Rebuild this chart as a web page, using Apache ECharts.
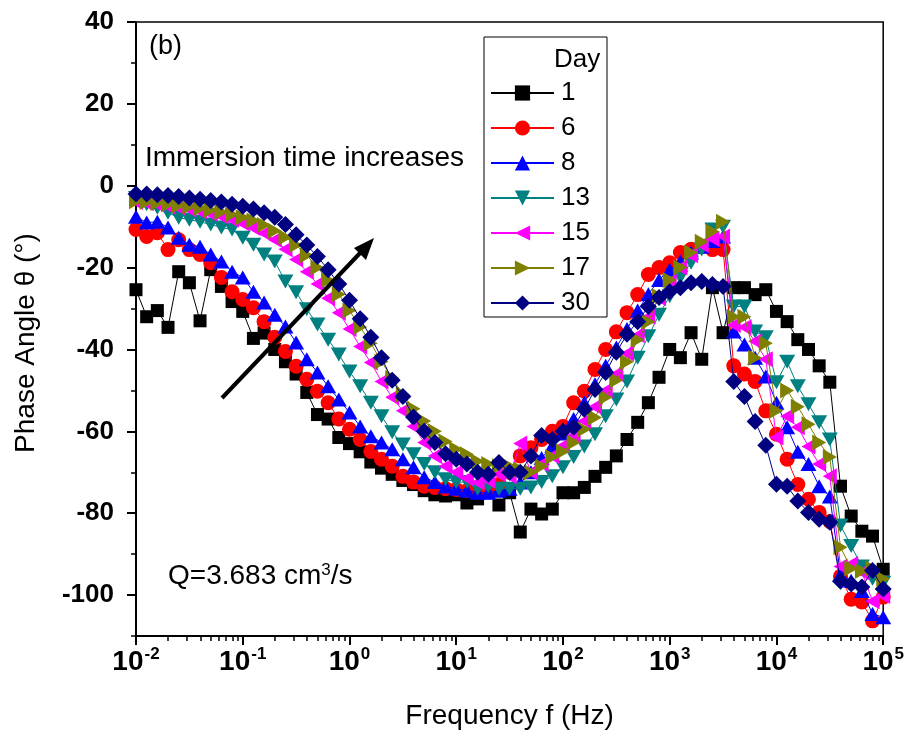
<!DOCTYPE html>
<html>
<head>
<meta charset="utf-8">
<script src="https://cdn.jsdelivr.net/npm/echarts@6/dist/echarts.min.js"></script>
<style>
  html, body { margin: 0; padding: 0; background: #ffffff; }
  #chart { width: 907px; height: 749px; }
</style>
</head>
<body>
<div id="chart"></div>
<script>
// Measurement frequencies (Hz), 10 points per decade from 10 mHz to 100 kHz
const frequency = [
  0.01, 0.01259, 0.01585, 0.01995, 0.02512, 0.03162, 0.03981, 0.05012, 0.0631, 0.07943,
  0.1, 0.1259, 0.1585, 0.1995, 0.2512, 0.3162, 0.3981, 0.5012, 0.631, 0.7943,
  1, 1.259, 1.585, 1.995, 2.512, 3.162, 3.981, 5.012, 6.31, 7.943,
  10, 12.59, 15.85, 19.95, 25.12, 31.62, 39.81, 50.12, 63.1, 79.43,
  100, 125.9, 158.5, 199.5, 251.2, 316.2, 398.1, 501.2, 631, 794.3,
  1000, 1259, 1585, 1995, 2512, 3162, 3981, 5012, 6310, 7943,
  10000, 12590, 15850, 19950, 25120, 31620, 39810, 50120, 63100, 79430,
  100000
];

// Phase angle (degrees) for each immersion day, same order as frequency
const day1 = [
  -25.4, -32, -30.5, -34.6, -21, -23.7, -33, -20.5, -24.6, -28.3,
  -30.7, -37.3, -36, -40, -43, -46, -50.5, -55.9, -57, -61.5,
  -63, -65, -67.5, -69, -70.5, -72, -73, -74.5, -75.5, -75.8,
  -75.5, -77.5, -76.5, -75, -78, -75, -84.6, -79, -80.2, -79,
  -75, -75, -73.7, -71, -68.8, -66, -62, -57.8, -53, -46.8,
  -40, -42, -35.9, -42.4, -24.9, -35.9, -24.9, -24.9, -26.6, -25.4,
  -30.7, -33.2, -37.6, -40, -44, -48, -73.4, -80.7, -84.4, -85.6,
  -93.7
];
const day6 = [
  -10.7, -12.4, -11.5, -15.6, -13.2, -15.6, -16.8, -18.8, -22.4, -25.9,
  -27.8, -29.8, -33.2, -37, -40.5, -44.1, -47.3, -50.2, -53, -57,
  -59.5, -62, -64.9, -66.8, -68.5, -71, -72.4, -73.4, -73.7, -74,
  -74.2, -74.5, -74.5, -74, -73, -70, -66, -64, -62, -60,
  -58.8, -53, -50.2, -44.9, -40, -35.7, -31, -26.6, -21.7, -20,
  -18.8, -16.3, -15.5, -14.9, -15.6, -15.6, -44, -46, -47.8, -55,
  -60.7, -66.8, -73, -76.6, -79.8, -82, -95.4, -101, -101.7, -106.3,
  -100.5
];
const day8 = [
  -7.6, -9, -8.8, -10.2, -12.7, -14.4, -14.9, -16.8, -18.5, -21,
  -22.4, -25.9, -28.5, -31.5, -34.4, -38.3, -42.4, -45.6, -49, -52.2,
  -55.4, -58.8, -61.2, -62.7, -64.4, -66.8, -68.8, -71.2, -72.4, -73.5,
  -74, -74.5, -75, -75, -74.5, -74, -72.5, -70, -66.5, -63.5,
  -60.5, -57, -53, -48.5, -44, -39.5, -35, -30.5, -26.5, -23,
  -20.5, -18.5, -16.3, -14.9, -13.5, -12.4, -35.6, -38.8, -42, -46.6,
  -53, -59, -65, -68, -73.4, -75.9, -95, -96.5, -99, -104.6,
  -105.4
];
const day13 = [
  -3, -4.5, -5.4, -6.6, -7.8, -8.3, -8.8, -9.5, -10.2, -10.7,
  -12.7, -14.4, -16.8, -18.5, -23.4, -26, -30.2, -33.9, -37.6, -41.2,
  -45.4, -49, -53, -56.3, -60.2, -63.2, -65.6, -68, -70, -71.7,
  -72.4, -72.4, -74, -73.4, -74, -74, -74, -73.7, -72.4, -71,
  -68.8, -66.3, -63.7, -60.7, -56.3, -52.2, -47.8, -42, -36.8, -31.5,
  -27, -22.4, -18.8, -15.6, -10.7, -10, -29.5, -29.5, -35.6, -37,
  -48, -43, -49, -53.4, -57.8, -62, -83, -88, -93, -96,
  -97
];
const day15 = [
  -4, -4.3, -4.6, -5, -5.4, -5.8, -6.3, -6.9, -7.5, -8.3,
  -9.2, -10.3, -11.6, -13.2, -15.5, -18, -21, -24, -27.5, -31,
  -35, -39.3, -43.2, -47.8, -51.7, -55, -58.8, -62.7, -66, -68.5,
  -70, -71.5, -72.5, -72, -70.5, -71, -63, -70, -68, -66,
  -63.5, -61, -57.5, -54, -50, -46, -41, -36.5, -32, -27.5,
  -23.5, -20, -17, -14.5, -13, -12.4, -34, -34.6, -38, -42.4,
  -61.5, -56.3, -59, -63.7, -68, -71, -93, -92.4, -94.4, -101.5,
  -100.2
];
const day17 = [
  -3.8, -4, -4.2, -4.5, -4.8, -5.1, -5.5, -5.9, -6.4, -7,
  -7.7, -8.5, -9.6, -11, -12.6, -14.5, -17, -20, -23, -26.5,
  -30.5, -34.5, -38.5, -43, -47, -51, -54.5, -57.5, -60, -62.5,
  -64.4, -65.6, -67.3, -68, -68.5, -68.5, -69.3, -70, -68.5, -66.3,
  -64.9, -62.7, -59.5, -56.6, -51.7, -47.5, -43, -37.6, -33.2, -27,
  -23, -20, -16.3, -13.7, -11.2, -8.8, -32, -32, -42, -38.5,
  -55, -50, -54, -58.3, -62.7, -66.3, -88.3, -93.5, -94.1, -93.5,
  -96
];
const day30 = [
  -2, -2, -2.2, -2.4, -2.6, -3, -3.3, -3.6, -4, -4.5,
  -5, -5.7, -6.6, -7.7, -9.5, -12, -14.5, -17.3, -20.5, -24,
  -28, -32.5, -37, -42, -47.5, -51.5, -56.5, -60, -62.7, -65.5,
  -66.8, -68, -70, -70.5, -67.6, -70, -70, -66, -61, -62,
  -60, -59, -54.6, -49.8, -45.6, -40.7, -36.3, -33.2, -29.5, -27.3,
  -25.9, -24.9, -23.7, -23.4, -24.1, -24.6, -47.8, -51.5, -57.6, -63.4,
  -72.9, -73.4, -77, -79.8, -81.5, -82.2, -96.6, -97.3, -98, -94,
  -98.5
];

const dayLabels = ['1', '6', '8', '13', '15', '17', '30'];
const yTickValues = [-100, -80, -60, -40, -20, 0, 20, 40];
const xDecades = [0.01, 0.1, 1, 10, 100, 1000, 10000, 100000];

// Minor tick positions 2..9 inside each decade
const xMinorTicks = [];
for (let d = 0; d < xDecades.length - 1; d++) {
  for (let m = 2; m <= 9; m++) xMinorTicks.push(+(xDecades[d] * m).toPrecision(3));
}

const FONT = '"Liberation Sans", Arial, sans-serif';

const styles = [
  { data: day1,  color: '#000000', symbol: 'rect',     size: 13,       rotate: 0 },
  { data: day6,  color: '#ff0000', symbol: 'circle',   size: 15,       rotate: 0 },
  { data: day8,  color: '#0000ff', symbol: 'triangle', size: [16, 14], rotate: 0 },
  { data: day13, color: '#008080', symbol: 'triangle', size: [16, 14], rotate: 180 },
  { data: day15, color: '#ff00ff', symbol: 'triangle', size: [16, 14], rotate: 90 },
  { data: day17, color: '#808000', symbol: 'triangle', size: [16, 14], rotate: -90 },
  { data: day30, color: '#000080', symbol: 'diamond',  size: [17, 17], rotate: 0 }
];

const series = styles.map((s, i) => ({
  name: dayLabels[i],
  type: 'line',
  data: frequency.map((f, j) => [f, s.data[j]]),
  symbol: s.symbol,
  symbolSize: s.size,
  symbolRotate: s.rotate,
  showAllSymbol: true,
  color: s.color,
  lineStyle: { width: 1, color: s.color },
  itemStyle: { color: s.color },
  z: 2 + i,
  animation: false
}));

const chart = echarts.init(document.getElementById('chart'), null, { renderer: 'canvas' });

const axisLineStyle = { color: '#000', width: 2 };

chart.setOption({
  animation: false,
  backgroundColor: '#ffffff',
  grid: {
    left: 136, right: 23, top: 22, bottom: 113,
    show: true, borderColor: '#000', borderWidth: 1.5, backgroundColor: 'transparent'
  },
  xAxis: [
    {
      type: 'log', logBase: 10, min: 0.01, max: 100000,
      name: 'Frequency f (Hz)', nameLocation: 'middle', nameGap: 66,
      nameTextStyle: { fontFamily: FONT, fontSize: 28, color: '#000' },
      axisLine: { onZero: false, lineStyle: axisLineStyle },
      axisTick: { inside: false, length: 9, lineStyle: { color: '#000', width: 2 }, customValues: xDecades },
      splitLine: { show: false },
      axisLabel: {
        customValues: xDecades,
        margin: 10,
        formatter: v => '{b|10}{s|' + Math.round(Math.log10(v)) + '}',
        rich: {
          b: { fontFamily: FONT, fontSize: 28, fontWeight: 'bold', color: '#000', lineHeight: 32 },
          s: { fontFamily: FONT, fontSize: 17, fontWeight: 'bold', color: '#000', verticalAlign: 'top', lineHeight: 32, padding: [0, 0, 0, 1] }
        }
      }
    },
    {
      type: 'log', logBase: 10, min: 0.01, max: 100000, position: 'bottom',
      axisLine: { show: false, onZero: false },
      axisTick: { inside: false, length: 5, lineStyle: { color: '#000', width: 1.5 }, customValues: xMinorTicks },
      axisLabel: { show: false },
      splitLine: { show: false }
    }
  ],
  yAxis: [
    {
      type: 'value', min: -110, max: 40, interval: 10,
      axisLine: { onZero: false, lineStyle: axisLineStyle },
      axisTick: { inside: false, length: 9, lineStyle: { color: '#000', width: 2 }, customValues: yTickValues },
      splitLine: { show: false },
      axisLabel: {
        customValues: yTickValues,
        margin: 22,
        fontFamily: FONT, fontSize: 26, fontWeight: 'bold', color: '#000'
      }
    },
    {
      type: 'value', min: -110, max: 40, interval: 10, position: 'left',
      axisLine: { show: false, onZero: false },
      axisTick: { inside: false, length: 5, lineStyle: { color: '#000', width: 1.5 } },
      axisLabel: { show: false },
      splitLine: { show: false }
    }
  ],
  legend: {
    data: dayLabels,
    orient: 'vertical',
    left: 490, top: 80,
    itemWidth: 63, itemHeight: 19, itemGap: 9,
    padding: 0,
    textStyle: { fontFamily: FONT, fontSize: 26, color: '#000', padding: [0, 0, 0, 2] },
    selectedMode: false
  },
  graphic: [
    { type: 'rect', shape: { x: 484, y: 37, width: 123, height: 280 },
      style: { fill: '#fff', stroke: '#000', lineWidth: 1 }, z: 0 },
    { type: 'text', x: 554, y: 47, style: { text: 'Day', fontFamily: FONT, fontSize: 26, fill: '#000' }, z: 10 },
    { type: 'text', x: 26, y: 343, rotation: Math.PI / 2,
      style: { text: 'Phase Angle \u03b8 (\u00b0)', fontFamily: FONT, fontSize: 28, fill: '#000',
               align: 'center', verticalAlign: 'middle' }, z: 10 },
    { type: 'text', x: 149, y: 33, style: { text: '(b)', fontFamily: FONT, fontSize: 27, fill: '#000' }, z: 10 },
    { type: 'text', x: 145, y: 144, style: { text: 'Immersion time increases', fontFamily: FONT, fontSize: 28, fill: '#000' }, z: 10 },
    { type: 'text', x: 168, y: 562, style: {
        rich: {
          n: { fontFamily: FONT, fontSize: 28, fill: '#000' },
          u: { fontFamily: FONT, fontSize: 17, fill: '#000', verticalAlign: 'top' }
        },
        text: '{n|Q=3.683 cm}{u|3}{n|/s}'
      }, z: 10 },
    { type: 'line', shape: { x1: 222, y1: 398, x2: 362, y2: 251 },
      style: { stroke: '#000', lineWidth: 4 }, z: 10 },
    { type: 'polygon', shape: { points: [[374, 238], [354, 248], [366, 260]] },
      style: { fill: '#000' }, z: 10 }
  ],
  series: series
});
</script>
</body>
</html>
